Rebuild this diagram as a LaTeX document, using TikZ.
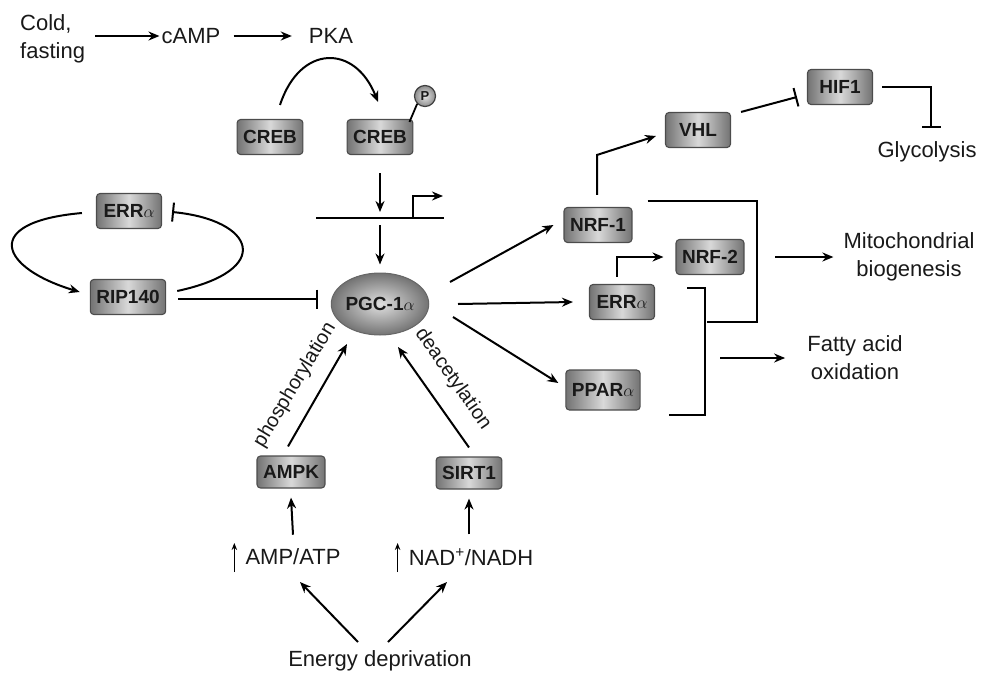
\documentclass[tikz,border=0pt]{standalone}
\usepackage{fontspec}
\setmainfont{Liberation Sans}
\usetikzlibrary{arrows.meta,shapes.geometric}
\begin{document}
\begin{tikzpicture}[x=1pt,y=-1pt,
  every node/.style={text=black!90},
  lbl/.style={font=\fontsize{22}{28}\selectfont, align=center, inner sep=2pt},
  rot/.style={font=\fontsize{20}{24}\selectfont, inner sep=1pt},
  box/.style={draw=black!70, line width=1.1pt, rounded corners=3.5pt,
     left color=black!55, right color=black!55, middle color=black!15,
     font=\bfseries\fontsize{19}{21}\selectfont,
     minimum width=65pt, minimum height=35pt, inner xsep=6pt, inner ysep=2pt},
  pgcstyle/.style={ellipse, draw=black!60, line width=1pt,
     inner color=black!12, outer color=black!55,
     minimum width=84pt, minimum height=62pt, inner sep=0pt,
     font=\bfseries\fontsize{19}{21}\selectfont},
  pc/.style={circle, draw=black!75, line width=1.2pt, inner color=black!10, outer color=black!45,
     minimum size=21pt, inner sep=0pt, font=\bfseries\fontsize{13}{13}\selectfont},
  arr/.style={line width=2pt, -{Stealth[length=11pt,width=9pt]}},
  inh/.style={line width=2pt, -{Bar[width=19pt]}},
  ln/.style={line width=2pt},
  sarr/.style={line width=1.3pt, -{Stealth[length=7pt,width=5.5pt]}},
]
\useasboundingbox (0,0) rectangle (982,675);

% nodes
\node[lbl, anchor=west, align=left] (cold) at (18,39) {Cold,\\fasting};
\node[lbl] (camp) at (191,36) {cAMP};
\node[lbl] (pka) at (331,36) {PKA};
\node[box] (creb1) at (270,137) {CREB};
\node[box] (creb2) at (380,137) {CREB};
\node[pc] (p) at (425,96) {P};
\node[pgcstyle] (pgc) at (380,304) {PGC-1$\alpha$};
\node[box] (errL) at (129,211) {ERR$\alpha$};
\node[box] (rip) at (128,297) {RIP140};
\node[box] (nrf1) at (598,225) {NRF-1};
\node[box] (vhl) at (698,130) {VHL};
\node[box] (hif1) at (840,87) {HIF1};
\node[lbl] (glyc) at (927,152) {Glycolysis};
\node[box] (nrf2) at (710,257) {NRF-2};
\node[box] (errR) at (622,302) {ERR$\alpha$};
\node[box, minimum height=40pt] (ppar) at (603,390) {PPAR$\alpha$};
\node[lbl] (mito) at (909,257) {Mitochondrial\\biogenesis};
\node[lbl] (fatty) at (855,358) {Fatty acid\\oxidation};
\node[box, minimum height=32pt] (ampk) at (291,472) {AMPK};
\node[box, minimum height=32pt] (sirt) at (469,473) {SIRT1};
\node[lbl] (amp) at (293,557) {AMP/ATP};
\node[lbl] (nad) at (471,557) {NAD\textsuperscript{+}/NADH};
\node[lbl] (energy) at (380,661) {Energy deprivation};
\node[rot, rotate=59] (phos) at (295,385) {phosphorylation};
\node[rot, rotate=-55] (deac) at (453,379) {deacetylation};

% top pathway
\draw[arr] (cold.east |- camp.west) ++(8,0) -- (camp.west);
\draw[arr] (camp.east) ++(11,0) -- ([xshift=-15pt]pka.west);
\draw[arr] ([xshift=10pt,yshift=14pt]creb1.north) .. controls (300,44) and (355,44) .. ([xshift=-2pt,yshift=17pt]creb2.north);
\draw[line width=1.8pt] ([xshift=-4pt,yshift=-3pt]creb2.north east) -- (p.225);

% gene
\coordinate (gl) at (316,218);
\coordinate (gr) at (444,218);
\coordinate (g) at (380,218);
\coordinate (tss) at (413,218);
\draw[ln] (gl) -- (gr);
\draw[arr] (tss) -- ++(0,-22) -- ++(30,0);
\draw[arr] ([yshift=-18pt]creb2.south) -- ([yshift=6pt]g);
\draw[arr] ([yshift=-7pt]g) -- ([yshift=8pt]pgc.north);

% ERRalpha / RIP140 loop
\draw[arr] ([xshift=-14pt,yshift=-2pt]errL.west) .. controls (-20,222) and (0,268) .. ([xshift=-10pt,yshift=5pt]rip.west);
\draw[inh] ([xshift=11pt,yshift=6pt]rip.east) .. controls (275,270) and (255,220) .. ([xshift=10pt,yshift=-1pt]errL.east);
\draw[inh] ([xshift=12pt,yshift=-2pt]rip.east) -- ([xshift=-13pt,yshift=5pt]pgc.west);

% PGC targets
\draw[arr] ([xshift=70pt,yshift=22pt]pgc.center) -- ([xshift=-10pt]nrf1.west);
\draw[arr] ([xshift=78pt,yshift=0pt]pgc.center) -- ([xshift=-16pt]errR.west);
\draw[arr] ([xshift=73pt,yshift=-13pt]pgc.center) -- ([xshift=-7pt,yshift=7pt]ppar.west);

\draw[arr] ([xshift=-1pt,yshift=12pt]nrf1.north) -- ++(0,-40) -- ([xshift=-9pt,yshift=-6pt]vhl.west);
\draw[inh] ([xshift=10pt]vhl.north east) -- ([xshift=-10pt,yshift=-10pt]hif1.west);
\draw[inh] ([xshift=9pt]hif1.east) -| ([xshift=4pt,yshift=12pt]glyc.north);

\draw[arr] ([xshift=-5pt,yshift=7pt]errR.north) |- ([xshift=-12pt]nrf2.west);

% brackets
\draw[ln] ([xshift=15pt,yshift=6pt]nrf1.north east) -- ++(109,0) -- ++(0,121) -- ++(-50,0);
\draw[ln] ([xshift=32pt,yshift=14pt]errR.east) -- ++(18,0) -- ++(0,127) -- ++(-36,0);

\coordinate (mitoin) at (775,257);
\draw[arr] (mitoin) -- ([xshift=-8pt]mito.west);
\coordinate (fain) at (720,358);
\draw[arr] (fain) -- ([xshift=-20pt]fatty.west);

% bottom
\draw[arr] ([xshift=-3pt,yshift=9pt]ampk.north) -- ([xshift=-33pt,yshift=-40pt]pgc.center);
\draw[arr] ([yshift=9pt]sirt.north) -- ([xshift=18pt,yshift=-43pt]pgc.center);
\draw[arr] ([yshift=12pt]amp.north) -- ([yshift=-9pt]ampk.south);
\draw[arr] ([xshift=-2pt,yshift=12pt]nad.north) -- ([yshift=-9pt]sirt.south);
\draw[sarr] ([xshift=-9pt,yshift=-15pt]amp.west) -- ++(0,-29);
\draw[sarr] ([xshift=-9pt,yshift=-15pt]nad.west) -- ++(0,-29);
\draw[arr] ([xshift=-22pt,yshift=19pt]energy.center) -- ([xshift=7pt,yshift=-25pt]amp.center);
\draw[arr] ([xshift=8pt,yshift=19pt]energy.center) -- ([xshift=-24pt,yshift=-25pt]nad.center);
\end{tikzpicture}
\end{document}
